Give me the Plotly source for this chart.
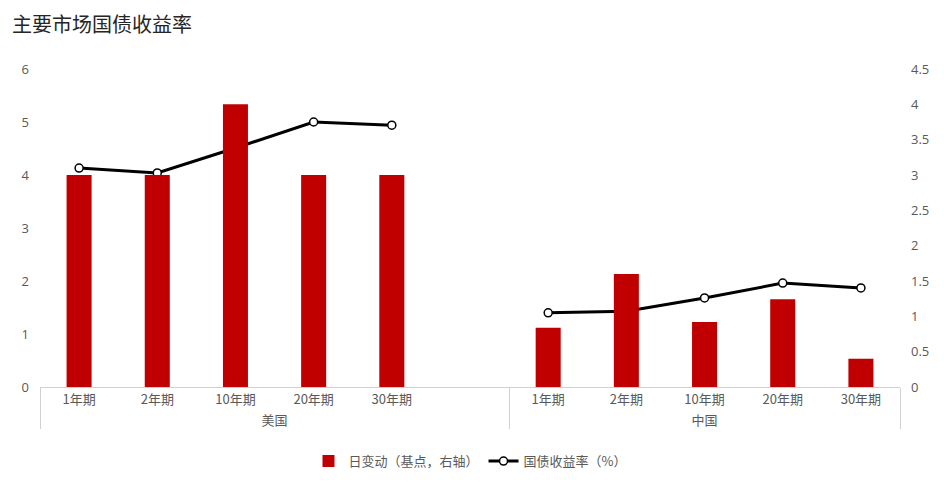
import plotly.graph_objects as go

groups = ["美国"] * 6 + ["中国"] * 5
tenors = ["1年期", "2年期", "10年期", "20年期", "30年期", " ",
          "1年期", "2年期", "10年期", "20年期", "30年期"]
daily_change = [3.0, 3.0, 4.0, 3.0, 3.0, None, 0.84, 1.6, 0.92, 1.24, 0.4]
yield_pct = [4.13, 4.04, 4.51, 5.0, 4.94, None, 1.40, 1.43, 1.68, 1.96, 1.87]

left_ticks = [0, 1, 2, 3, 4, 5, 6]
right_ticks = [0, 0.5, 1, 1.5, 2, 2.5, 3, 3.5, 4, 4.5]

font_cjk = "Noto Sans CJK SC"
gray = "#595959"

fig = go.Figure()
fig.add_trace(go.Bar(
    x=[groups, tenors], y=daily_change, name="日变动（基点，右轴）",
    marker=dict(color="#C00000", line=dict(width=0)), width=0.32, yaxis="y2",
))
fig.add_trace(go.Scatter(
    x=[groups, tenors], y=yield_pct, name="国债收益率（%）",
    mode="lines+markers", connectgaps=False,
    line=dict(color="black", width=3),
    marker=dict(size=8, color="white", line=dict(color="black", width=1.5)),
    yaxis="y",
))

fig.update_layout(
    width=944, height=484,
    margin=dict(l=40, r=44, t=69, b=97, autoexpand=False),
    paper_bgcolor="white", plot_bgcolor="white",
    title=dict(text="主要市场国债收益率", x=12 / 944, xref="container", xanchor="left",
               y=1 - 25 / 484, yref="container", yanchor="middle", pad=dict(l=0, t=0, b=0),
               automargin=False,
               font=dict(family=font_cjk, size=20, color="#262626")),
    font=dict(family=font_cjk, size=13, color=gray),
    xaxis=dict(type="multicategory", showline=True, linecolor="#D0D0D0", linewidth=1,
               range=[-0.5, len(tenors) - 0.5], autorange=False,
               showgrid=False, ticks="", showdividers=True, dividercolor="#D0D0D0",
               dividerwidth=1, automargin=False,
               tickfont=dict(family=font_cjk, size=13, color=gray)),
    yaxis=dict(range=[0, 6], tickvals=left_ticks, showgrid=False, zeroline=False,
               showline=False, ticks="", automargin=False,
               tickfont=dict(family="Open Sans", size=13, color=gray),
               ticklabelstandoff=10),
    yaxis2=dict(range=[0, 4.5], tickvals=right_ticks, overlaying="y", side="right",
                showgrid=False, zeroline=False, showline=False, ticks="", automargin=False,
                tickfont=dict(family="Open Sans", size=13, color=gray), ticklabelstandoff=10),
    legend=dict(orientation="h", x=0.5, xanchor="center", y=-0.233, yanchor="middle",
                font=dict(family=font_cjk, size=13, color=gray), traceorder="normal"),
    bargap=0.5,
)

fig.write_html("out.html", config={"displayModeBar": False},
               post_script="document.body.style.margin='0px';")
